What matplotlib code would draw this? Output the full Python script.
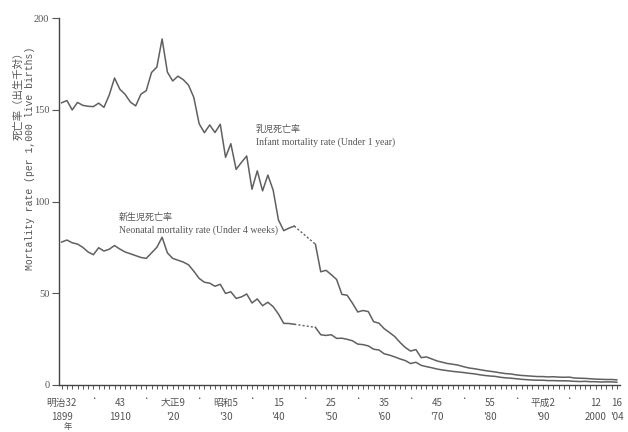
import matplotlib
matplotlib.use("Agg")
import matplotlib.pyplot as plt
import numpy as np

years = list(range(1899, 2005))

infant = [153.8, 155.0, 149.9, 154.0, 152.4, 151.9, 151.7, 153.6, 151.3, 158.0,
          167.3, 161.2, 158.4, 154.2, 152.1, 158.5, 160.4, 170.3, 173.2, 188.6,
          170.5, 165.7, 168.3, 166.4, 163.4, 156.7, 142.4, 137.5, 141.7, 137.6,
          142.1, 124.1, 131.5, 117.5, 121.3, 124.8, 106.7, 116.7, 105.8, 114.4,
          106.2, 90.0, 84.1, 85.5, 86.6, None, None, None, 76.7, 61.7,
          62.5, 60.1, 57.5, 49.4, 48.9, 44.6, 39.8, 40.6, 40.0, 34.5,
          33.7, 30.7, 28.6, 26.4, 23.2, 20.4, 18.5, 19.3, 14.9, 15.3,
          14.2, 13.1, 12.4, 11.7, 11.3, 10.8, 10.0, 9.3, 8.9, 8.4,
          7.9, 7.5, 7.1, 6.6, 6.2, 6.0, 5.5, 5.2, 5.0, 4.8,
          4.6, 4.6, 4.4, 4.5, 4.3, 4.2, 4.3, 3.8, 3.7, 3.6,
          3.4, 3.2, 3.1, 3.0, 3.0, 2.8]

neonatal = [77.9, 79.0, 77.5, 76.8, 75.0, 72.5, 71.0, 74.8, 73.0, 74.0,
            76.0, 74.1, 72.5, 71.5, 70.5, 69.5, 69.0, 72.0, 75.0, 80.5,
            72.0, 69.0, 68.0, 67.0, 65.5, 62.0, 58.1, 56.0, 55.5, 53.8,
            54.9, 49.9, 50.8, 47.2, 48.0, 49.6, 44.7, 46.9, 43.2, 45.1,
            42.7, 38.7, 33.6, 33.5, 33.1, None, None, None, 31.4, 27.4,
            27.0, 27.4, 25.4, 25.5, 24.9, 24.1, 22.3, 22.0, 21.3, 19.5,
            19.1, 17.0, 16.3, 15.3, 14.2, 13.3, 11.7, 12.4, 10.7, 10.0,
            9.4, 8.7, 8.2, 7.8, 7.4, 7.1, 6.8, 6.4, 6.1, 5.6,
            5.2, 4.9, 4.7, 4.2, 3.9, 3.7, 3.4, 3.1, 2.9, 2.7,
            2.6, 2.6, 2.4, 2.4, 2.3, 2.3, 2.2, 2.0, 1.9, 2.0,
            1.8, 1.8, 1.6, 1.7, 1.7, 1.5]

label_years = [1899, 1910, 1920, 1930, 1940, 1950, 1960, 1970, 1980, 1990, 2000, 2004]
label_era = ["明治32", "43", "大正9", "昭和5", "15", "25", "35", "45", "55", "平成2", "12", "16"]
label_west = ["1899", "1910", "'20", "'30", "'40", "'50", "'60", "'70", "'80", "'90", "2000", "'04"]
dot_years = [1905, 1915, 1925, 1935, 1945, 1955, 1965, 1975, 1985, 1995]

yticks = [0, 50, 100, 150, 200]

yrs = np.array(years, dtype=float)
inf = np.array([np.nan if v is None else v for v in infant], dtype=float)
neo = np.array([np.nan if v is None else v for v in neonatal], dtype=float)

CJK = ['Noto Sans CJK JP', 'DejaVu Sans']
gray = '#606060'
txt = '#555555'

fig = plt.figure(figsize=(6.28, 4.32), dpi=100)
ax = fig.add_axes([59/628, 1-385/432, 561/628, 367/432])

ax.plot(yrs, inf, color=gray, lw=1.1)
ax.plot(yrs, neo, color=gray, lw=1.1)

# dotted gaps (war years)
def gap(arr):
    idx = np.where(np.isnan(arr))[0]
    a, b = idx[0]-1, idx[-1]+1
    ax.plot([yrs[a], yrs[b]], [arr[a], arr[b]], color=gray, lw=1.0, ls=(0, (1.5, 1.5)))
gap(inf)
gap(neo)

ax.set_xlim(1898.5, 2004.6)
ax.set_ylim(0, 200)
for s in ['top', 'right']:
    ax.spines[s].set_visible(False)
for s in ['left', 'bottom']:
    ax.spines[s].set_color('#444444')
    ax.spines[s].set_linewidth(1.0)

ax.set_xticks(years)
ax.set_xticklabels([])
ax.tick_params(axis='x', direction='out', length=3, width=0.7, color='#555555')
ax.set_yticks(yticks)
ax.set_yticklabels([str(v) for v in yticks], family='Liberation Serif', fontsize=7.5, color=txt)
ax.tick_params(axis='y', direction='out', length=5, width=0.8, color='#555555', pad=2)

tr = ax.get_xaxis_transform()
for yr, e, w in zip(label_years, label_era, label_west):
    ax.text(yr, -0.049, e, transform=tr, ha='center', va='center', fontsize=7,
            family=CJK, color=txt)
    ax.text(yr, -0.087, w, transform=tr, ha='center', va='center', fontsize=7,
            family=CJK, color=txt)
for yr in dot_years:
    ax.text(yr, -0.038, '•', transform=tr, ha='center', va='center', fontsize=4,
            color=txt)
fig.text(68/628, 1-427/432, '年', fontsize=6, family=CJK, color=txt, ha='center', va='center')

# annotations
ax.text(1935.7, 139.5, '乳児死亡率', fontsize=6.5, family=CJK, color=txt, ha='left', va='center')
ax.text(1935.7, 132.5, 'Infant mortality rate (Under 1 year)', fontsize=7,
        family='Liberation Serif', color=txt, ha='left', va='center')
ax.text(1909.8, 91.5, '新生児死亡率', fontsize=6.5, family=CJK, color=txt, ha='left', va='center')
ax.text(1909.8, 84.5, 'Neonatal mortality rate (Under 4 weeks)', fontsize=7,
        family='Liberation Serif', color=txt, ha='left', va='center')

# y label (two columns, top aligned)
fig.text(19/628, 1-47/432, '死亡率（出生千対）', rotation=90, fontsize=7.5, family=CJK,
         color=txt, ha='center', va='top')
fig.text(30/628, 1-47/432, 'Mortality rate (per 1,000 live births)', rotation=90,
         fontsize=7, family='Liberation Mono', color=txt, ha='center', va='top')

fig.savefig('out.png', dpi=100)
